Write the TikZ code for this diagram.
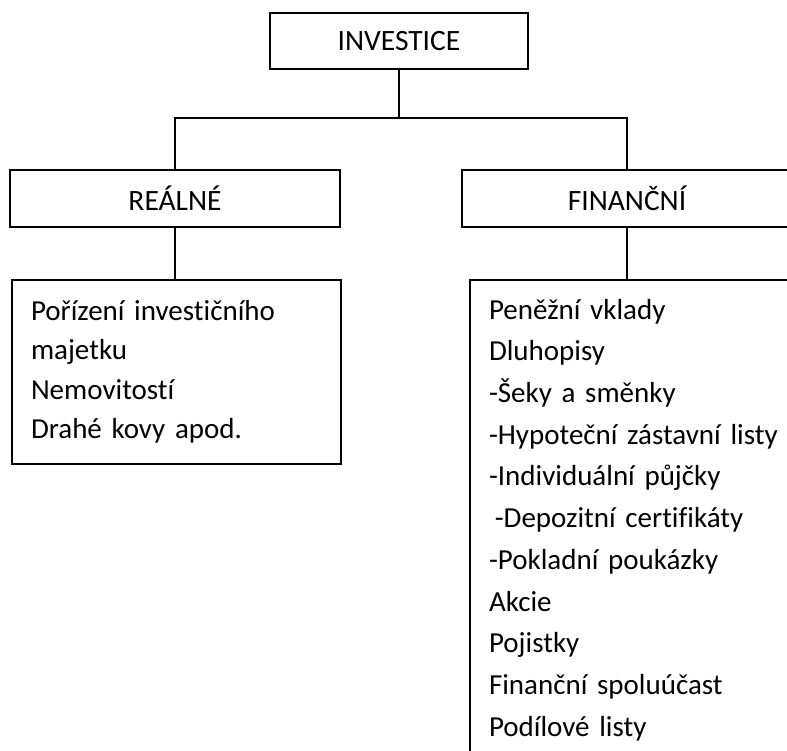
\documentclass[tikz,border=0pt]{standalone}
\usepackage{fontspec}
\setmainfont{Carlito}[Ligatures=NoCommon,WordSpace=0.9]
\usepackage{tikz}

\begin{document}
\begin{tikzpicture}[x=1pt,y=-1pt,line width=2pt,
    headbox/.style={draw,minimum width=330pt,minimum height=57pt,font=\fontsize{29.5}{35}\selectfont},
    listbox/.style={draw,anchor=north west,align=left,inner xsep=19pt,inner ysep=12pt,font=\fontsize{29}{41.7}\selectfont}]
    \useasboundingbox (0,0) rectangle (787,751);
    \clip (0,0) rectangle (787,751);
    \node[headbox,minimum width=258pt,minimum height=56pt] (investice) at (399,41) {INVESTICE};
    \node[headbox] (real) at (175,198.5) {REÁLNÉ};
    \node[headbox] (financni) at (627,198.5) {FINANČNÍ};
    \coordinate (rozcesti) at ([yshift=-48pt]investice.south);
    \draw (investice.south) -- (rozcesti);
    \draw (real.north) |- (rozcesti) -| (financni.north);
    \node[listbox,text width=291pt,minimum height=184pt,font=\fontsize{29}{39.5}\selectfont] (reallist) at (11,279)
      {Pořízení investičního\\majetku\\Nemovitostí\\Drahé kovy apod.};
    \node[listbox,text width=330pt,inner ysep=19pt] (finlist) at (469,279)
      {Peněžní vklady\\Dluhopisy\\-Šeky a směnky\\-Hypoteční zástavní listy\\
       -Individuální půjčky\\\hspace*{0.2em}-Depozitní certifikáty\\-Pokladní poukázky\\
       Akcie\\Pojistky\\Finanční spoluúčast\\Podílové listy\\[30pt]\mbox{}};
    \draw (real.south) -- (real.south |- reallist.north);
    \draw (financni.south) -- (financni.south |- finlist.north);
\end{tikzpicture}
\end{document}
